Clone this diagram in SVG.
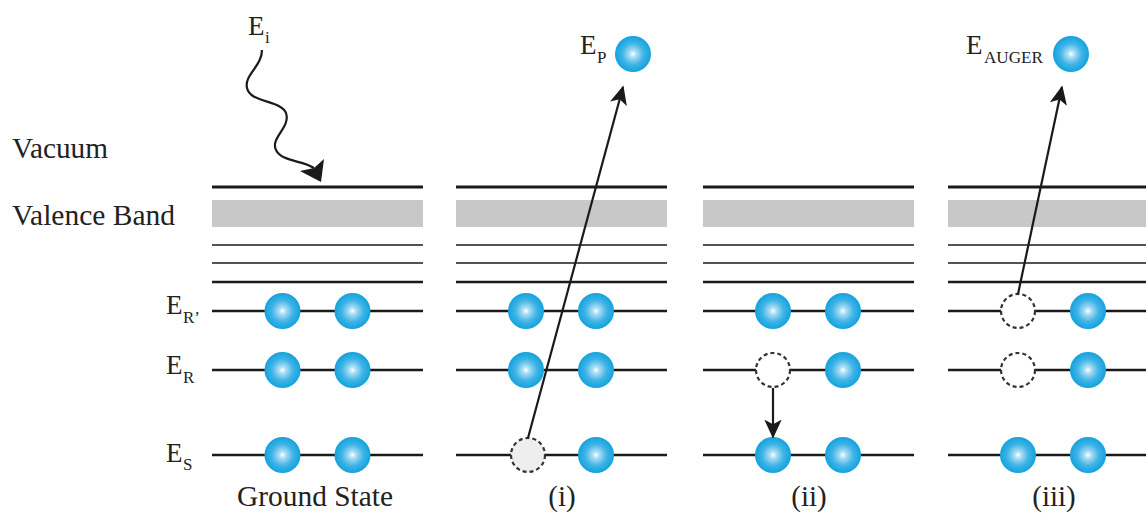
<svg xmlns="http://www.w3.org/2000/svg" width="1146" height="513" viewBox="0 0 1146 513">
<style>
.lbl{font-family:"Liberation Serif","Times New Roman",serif;fill:#222;font-size:29px}
.el{font-family:"Liberation Serif","Times New Roman",serif;fill:#222;font-size:27px}
.sub{font-family:"Liberation Serif","Times New Roman",serif;fill:#222;font-size:17px}
.thick{stroke:#1a1a1a;stroke-width:3;fill:none}
.thin{stroke:#1a1a1a;stroke-width:1.6;fill:none}
.lvl{stroke:#1a1a1a;stroke-width:2.6;fill:none}
.band{fill:#c8c8c8}
.hole{stroke:#333;stroke-width:2.2;stroke-dasharray:4 3;fill:#fff}
.arr{stroke:#1a1a1a;stroke-width:2.2;fill:none}
</style>
<defs>
<radialGradient id="eg" cx="0.5" cy="0.5" r="0.5">
<stop offset="0" stop-color="#ffffff"/>
<stop offset="0.2" stop-color="#a9dcf4"/>
<stop offset="0.6" stop-color="#3fb4e6"/>
<stop offset="1" stop-color="#13a2dd"/>
</radialGradient>
<marker id="ah2" viewBox="0 0 12 12" refX="11" refY="6" markerWidth="19" markerHeight="19" orient="auto" markerUnits="userSpaceOnUse">
<path d="M0,0.5 L12,6 L0,11.5 L3,6 Z" fill="#1a1a1a"/>
</marker>
</defs>
<rect width="1146" height="513" fill="#fff"/>

<g id="labels">
<text class="lbl" x="12" y="158" textLength="96" lengthAdjust="spacingAndGlyphs">Vacuum</text>
<text class="lbl" x="12" y="225" textLength="163" lengthAdjust="spacingAndGlyphs">Valence Band</text>
<text class="el" x="166" y="314">E</text><text class="sub" x="183" y="323">R’</text>
<text class="el" x="166" y="374">E</text><text class="sub" x="183" y="383">R</text>
<text class="el" x="166" y="462">E</text><text class="sub" x="183" y="470">S</text>
</g>

<g id="col-ground">
<line class="thick" x1="212" y1="187" x2="423" y2="187"/>
<rect class="band" x="212" y="200" width="211" height="27"/>
<line class="thin" x1="212" y1="245" x2="423" y2="245"/>
<line class="thin" x1="212" y1="263" x2="423" y2="263"/>
<line class="lvl" x1="212" y1="282" x2="423" y2="282"/>
<line class="lvl" x1="212" y1="311" x2="423" y2="311"/>
<line class="lvl" x1="212" y1="370" x2="423" y2="370"/>
<line class="lvl" x1="212" y1="455" x2="423" y2="455"/>
<circle cx="282.5" cy="311" r="18" fill="url(#eg)"/>
<circle cx="352.5" cy="311" r="18" fill="url(#eg)"/>
<circle cx="282.5" cy="370" r="18" fill="url(#eg)"/>
<circle cx="352.5" cy="370" r="18" fill="url(#eg)"/>
<circle cx="282.5" cy="455" r="18" fill="url(#eg)"/>
<circle cx="352.5" cy="455" r="18" fill="url(#eg)"/>
<text class="lbl" x="315" y="506" text-anchor="middle" textLength="156" lengthAdjust="spacingAndGlyphs">Ground State</text>
</g>

<g id="col-i">
<line class="thick" x1="456" y1="187" x2="667" y2="187"/>
<rect class="band" x="456" y="200" width="211" height="27"/>
<line class="thin" x1="456" y1="245" x2="667" y2="245"/>
<line class="thin" x1="456" y1="263" x2="667" y2="263"/>
<line class="lvl" x1="456" y1="282" x2="667" y2="282"/>
<line class="lvl" x1="456" y1="311" x2="667" y2="311"/>
<line class="lvl" x1="456" y1="370" x2="667" y2="370"/>
<line class="lvl" x1="456" y1="455" x2="667" y2="455"/>
<circle cx="526" cy="311" r="18" fill="url(#eg)"/>
<circle cx="596" cy="311" r="18" fill="url(#eg)"/>
<circle cx="526" cy="370" r="18" fill="url(#eg)"/>
<circle cx="596" cy="370" r="18" fill="url(#eg)"/>
<circle class="hole" cx="528" cy="455" r="17" style="fill:#eeeeee"/>
<circle cx="596" cy="455" r="18" fill="url(#eg)"/>
<text class="lbl" x="562" y="506" text-anchor="middle">(i)</text>
<circle cx="633" cy="54" r="18" fill="url(#eg)"/>
<text class="el" x="580" y="54">E</text><text class="sub" x="597" y="63">P</text>
</g>

<g id="col-ii">
<line class="thick" x1="703" y1="187" x2="914" y2="187"/>
<rect class="band" x="703" y="200" width="211" height="27"/>
<line class="thin" x1="703" y1="245" x2="914" y2="245"/>
<line class="thin" x1="703" y1="263" x2="914" y2="263"/>
<line class="lvl" x1="703" y1="282" x2="914" y2="282"/>
<line class="lvl" x1="703" y1="311" x2="914" y2="311"/>
<line class="lvl" x1="703" y1="370" x2="914" y2="370"/>
<line class="lvl" x1="703" y1="455" x2="914" y2="455"/>
<circle cx="773" cy="311" r="18" fill="url(#eg)"/>
<circle cx="843" cy="311" r="18" fill="url(#eg)"/>
<circle class="hole" cx="773" cy="370" r="17"/>
<circle cx="843" cy="370" r="18" fill="url(#eg)"/>
<circle cx="773" cy="455" r="18" fill="url(#eg)"/>
<circle cx="843" cy="455" r="18" fill="url(#eg)"/>
<text class="lbl" x="809" y="506" text-anchor="middle">(ii)</text>
</g>

<g id="col-iii">
<line class="thick" x1="948" y1="187" x2="1146" y2="187"/>
<rect class="band" x="948" y="200" width="198" height="27"/>
<line class="thin" x1="948" y1="245" x2="1146" y2="245"/>
<line class="thin" x1="948" y1="263" x2="1146" y2="263"/>
<line class="lvl" x1="948" y1="282" x2="1146" y2="282"/>
<line class="lvl" x1="948" y1="311" x2="1146" y2="311"/>
<line class="lvl" x1="948" y1="370" x2="1146" y2="370"/>
<line class="lvl" x1="948" y1="455" x2="1146" y2="455"/>
<circle class="hole" cx="1018" cy="311" r="17"/>
<circle cx="1088" cy="311" r="18" fill="url(#eg)"/>
<circle class="hole" cx="1018" cy="370" r="17"/>
<circle cx="1088" cy="370" r="18" fill="url(#eg)"/>
<circle cx="1018" cy="455" r="18" fill="url(#eg)"/>
<circle cx="1088" cy="455" r="18" fill="url(#eg)"/>
<text class="lbl" x="1054" y="506" text-anchor="middle">(iii)</text>
<circle cx="1071" cy="54" r="18" fill="url(#eg)"/>
<text class="el" x="966" y="54">E</text><text class="sub" x="984" y="63" textLength="59" lengthAdjust="spacingAndGlyphs">AUGER</text>
</g>

<g id="incident">
<text class="el" x="248" y="35">E</text><text class="sub" x="265" y="43">i</text>
</g>

<g id="connectors">
<path class="arr" d="M262,50 C262,66 244,75 247,88 C250,103 281,100 286,113 C291,127 270,138 276,150 C282,162 302,160 314,168"/>
<path d="M321,182 L300,171 L314,168 L324,159 Z" fill="#1a1a1a"/>
<line class="arr" x1="528" y1="438" x2="623" y2="87" marker-end="url(#ah2)"/>
<line class="arr" x1="773" y1="388" x2="773" y2="437" marker-end="url(#ah2)"/>
<line class="arr" x1="1018" y1="294" x2="1062" y2="87" marker-end="url(#ah2)"/>
</g>
</svg>
